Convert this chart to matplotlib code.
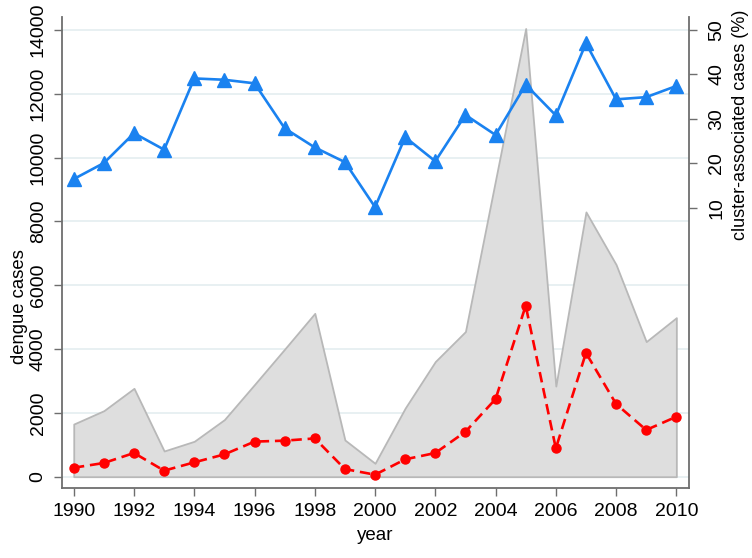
import matplotlib
matplotlib.use("Agg")
import matplotlib.pyplot as plt

years = list(range(1990, 2011))
total_cases = [1650, 2070, 2770, 806, 1110, 1790, 2890, 4000, 5120, 1150, 420,
               2150, 3610, 4550, 9300, 14050, 2840, 8300, 6650, 4235, 4985]
cluster_cases = [282, 430, 743, 190, 450, 700, 1100, 1130, 1200, 240, 63,
                 545, 743, 1410, 2435, 5360, 890, 3880, 2280, 1465, 1880]
cluster_pct = [16.5, 20.1, 26.8, 23.1, 39.1, 38.8, 38.0, 27.9, 23.6, 20.3, 10.2,
               25.9, 20.5, 30.9, 26.4, 37.7, 30.8, 47.0, 34.4, 34.9, 37.4]

left_ticks = list(range(0, 14001, 2000))
right_ticks = [10, 20, 30, 40, 50]
x_ticks = list(range(1990, 2011, 2))

plt.rcParams['font.family'] = ['Liberation Sans', 'DejaVu Sans']

fig = plt.figure(figsize=(7.52, 5.58), dpi=100)
ax = fig.add_axes([62/752, 1 - 488/558, (689 - 62)/752, (488 - 17)/558])

spine_col = '#6e6e6e'
for g in left_ticks:
    ax.axhline(g, color='#e6eff1', lw=1.3, zorder=0)

ax.fill_between(years, 0, total_cases, facecolor='#dedede', edgecolor='#b8b8b8',
                lw=1.3, zorder=1)
ax.plot(years, cluster_cases, color='#ff0000', ls=(0, (4, 2.2)), lw=1.9,
        marker='o', ms=6.5, zorder=3)

ax.set_xlim(1989.61, 2010.42)
ax.set_ylim(-354, 14410)
ax.set_xticks(x_ticks)
ax.set_yticks(left_ticks)
ax.set_yticklabels([str(t) for t in left_ticks], rotation=90, va='center')
ax.tick_params(axis='both', labelsize=14, length=6, width=1, color=spine_col, direction='out')
ax.tick_params(axis='y', pad=5)
ax.tick_params(axis='x', pad=5)
ax.spines['top'].set_visible(False)
ax.spines['right'].set_visible(False)
for s in ['left', 'bottom']:
    ax.spines[s].set_color(spine_col)
    ax.spines[s].set_linewidth(1.3)
ax.set_xlabel('year', fontsize=13.5)
ax.xaxis.set_label_coords(0.5, -0.083)
ax.set_ylabel('dengue cases', fontsize=13.3)
ax.yaxis.set_label_coords(-0.055, 0.385)

ax2 = ax.twinx()
ax2.plot(years, cluster_pct, color='#1a82f0', lw=1.9, marker='^', ms=9.5, zorder=3)
ax2.set_ylim(-52.9, 52.9)
ax2.set_yticks(right_ticks)
ax2.set_yticklabels([str(t) for t in right_ticks], rotation=90, va='center')
ax2.tick_params(axis='y', labelsize=14, length=6, width=1, color=spine_col, pad=8)
ax2.spines['top'].set_visible(False)
ax2.spines['left'].set_visible(False)
ax2.spines['bottom'].set_visible(False)
ax2.spines['right'].set_color(spine_col)
ax2.spines['right'].set_linewidth(1.3)
ax2.set_ylabel('cluster-associated cases (%)', fontsize=13)
ax2.yaxis.set_label_coords(1.069, 0.772)

fig.savefig('out.png', dpi=100)
